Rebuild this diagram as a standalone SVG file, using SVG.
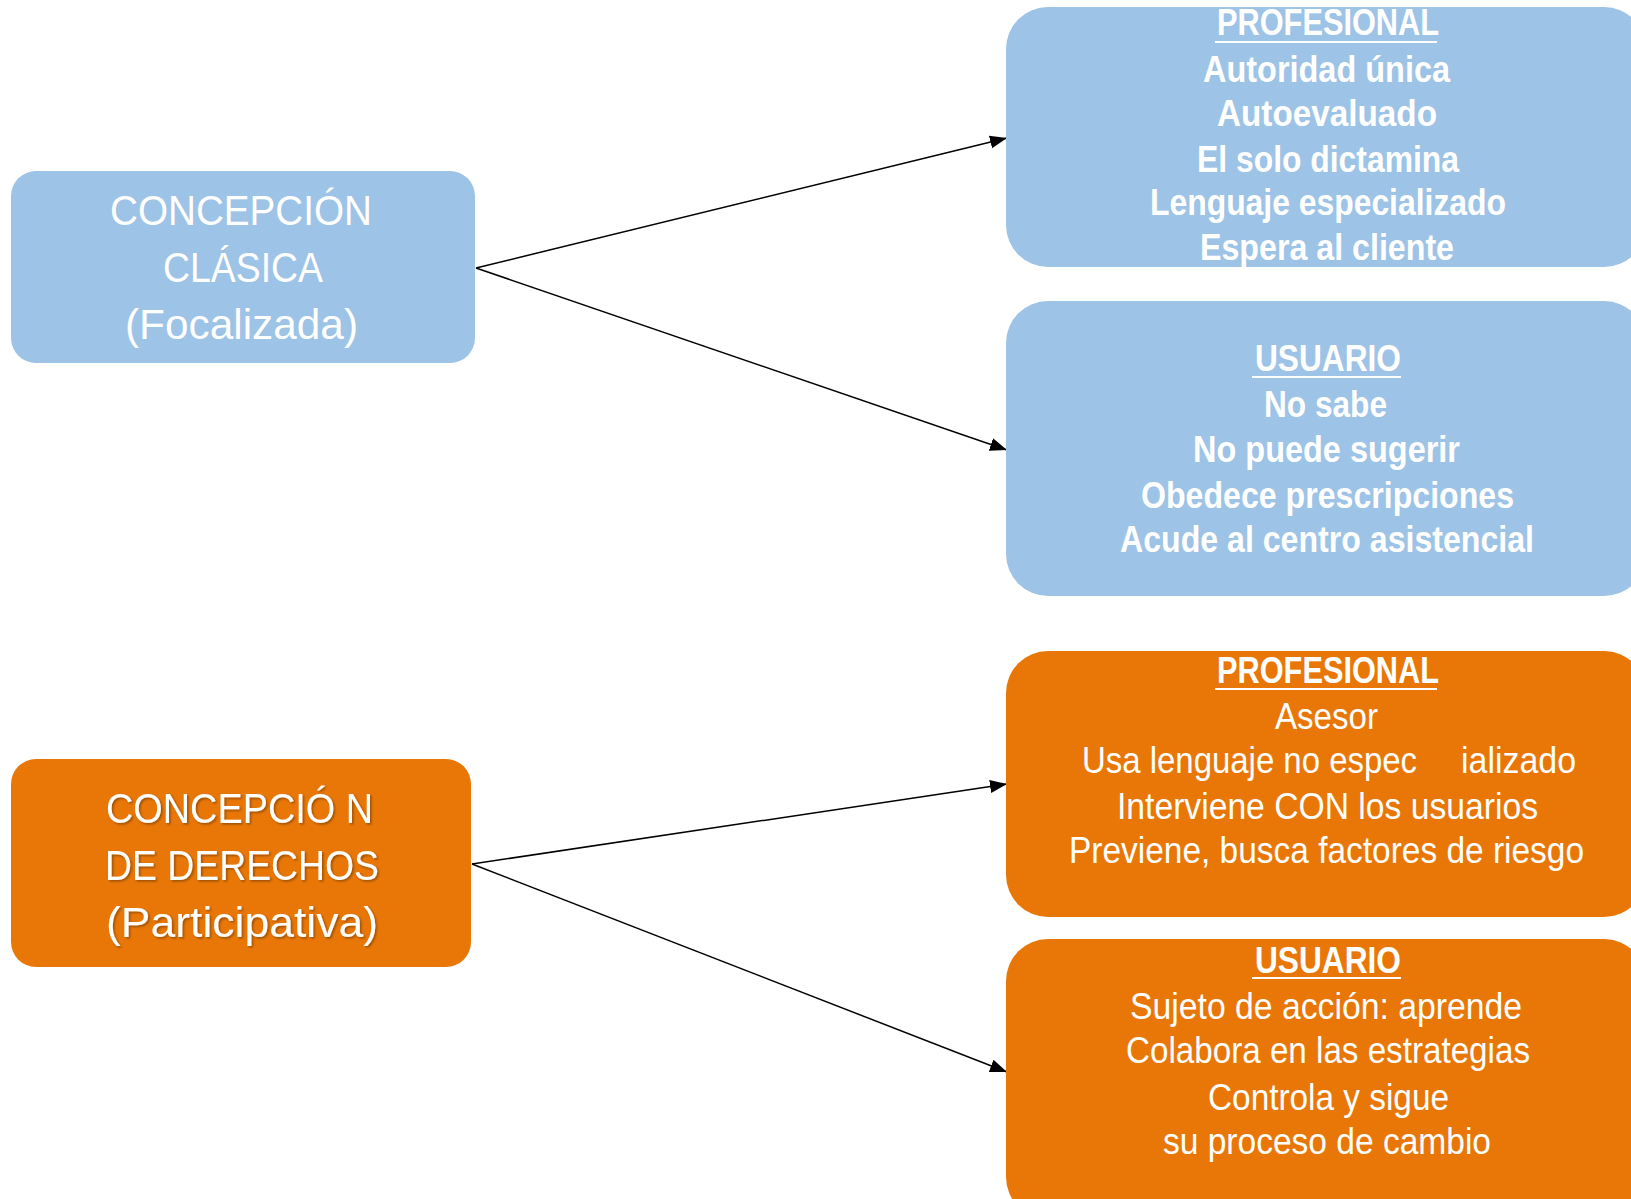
<svg xmlns="http://www.w3.org/2000/svg" width="1631" height="1199" viewBox="0 0 1631 1199">
<style>
.blue{fill:#9DC3E6}
.orange{fill:#E97707}
.t{font-family:"Liberation Sans",Arial,sans-serif;fill:#ffffff}
.big{font-size:43px}
.b{font-size:36px;font-weight:bold}
.r{font-size:36px}
.ul{stroke:#ffffff;stroke-width:2.2}
.conn{stroke:#000000;stroke-width:1.5;fill:none;marker-end:url(#arrow)}
</style>
<defs>
<marker id="arrow" markerUnits="userSpaceOnUse" markerWidth="18" markerHeight="15" refX="17" refY="7.5" orient="auto">
<path d="M0,1 L17,7.5 L0,14 z" fill="#000000"/>
</marker>
<filter id="sh" x="-10%" y="-20%" width="120%" height="140%">
<feDropShadow dx="1.5" dy="1.5" stdDeviation="1" flood-color="#000000" flood-opacity="0.35"/>
</filter>
</defs>
<rect width="1631" height="1199" fill="#ffffff"/>

<g id="connectors">
<line class="conn" x1="476" y1="268" x2="1007" y2="138"/>
<line class="conn" x1="476" y1="268" x2="1007" y2="450"/>
<line class="conn" x1="472" y1="864" x2="1007" y2="784"/>
<line class="conn" x1="472" y1="864" x2="1007" y2="1072"/>
</g>

<g id="clasica">
<rect class="blue" x="11" y="171" width="464" height="192" rx="25"/>
<text class="t big" x="110" y="225" textLength="262" lengthAdjust="spacingAndGlyphs">CONCEPCIÓN</text>
<text class="t big" x="163" y="282" textLength="160" lengthAdjust="spacingAndGlyphs">CLÁSICA</text>
<text class="t big" x="125" y="339" textLength="233" lengthAdjust="spacingAndGlyphs">(Focalizada)</text>
</g>

<g id="derechos">
<rect class="orange" x="11" y="759" width="460" height="208" rx="25"/>
<g filter="url(#sh)">
<text class="t big" x="106" y="823" textLength="267" lengthAdjust="spacingAndGlyphs">CONCEPCIÓ N</text>
<text class="t big" x="105" y="880" textLength="274" lengthAdjust="spacingAndGlyphs">DE DERECHOS</text>
<text class="t big" x="106" y="937" textLength="272" lengthAdjust="spacingAndGlyphs">(Participativa)</text>
</g>
</g>

<g id="profesional-clasica">
<rect class="blue" x="1006" y="7" width="640" height="260" rx="42"/>
<text class="t b" x="1217" y="35" textLength="222" lengthAdjust="spacingAndGlyphs">PROFESIONAL</text>
<line class="ul" x1="1215" y1="42" x2="1437" y2="42"/>
<text class="t b" x="1203" y="82" textLength="247" lengthAdjust="spacingAndGlyphs">Autoridad única</text>
<text class="t b" x="1217" y="126" textLength="220" lengthAdjust="spacingAndGlyphs">Autoevaluado</text>
<text class="t b" x="1197" y="172" textLength="262" lengthAdjust="spacingAndGlyphs">El solo dictamina</text>
<text class="t b" x="1150" y="215" textLength="356" lengthAdjust="spacingAndGlyphs">Lenguaje especializado</text>
<text class="t b" x="1200" y="260" textLength="254" lengthAdjust="spacingAndGlyphs">Espera al cliente</text>
</g>

<g id="usuario-clasica">
<rect class="blue" x="1006" y="301" width="640" height="295" rx="42"/>
<text class="t b" x="1255" y="371" textLength="146" lengthAdjust="spacingAndGlyphs">USUARIO</text>
<line class="ul" x1="1252" y1="377" x2="1401" y2="377"/>
<text class="t b" x="1264" y="417" textLength="123" lengthAdjust="spacingAndGlyphs">No sabe</text>
<text class="t b" x="1193" y="462" textLength="267" lengthAdjust="spacingAndGlyphs">No puede sugerir</text>
<text class="t b" x="1141" y="508" textLength="373" lengthAdjust="spacingAndGlyphs">Obedece prescripciones</text>
<text class="t b" x="1120" y="552" textLength="414" lengthAdjust="spacingAndGlyphs">Acude al centro asistencial</text>
</g>

<g id="profesional-derechos">
<rect class="orange" x="1006" y="651" width="640" height="266" rx="42"/>
<text class="t b" x="1217" y="683" textLength="222" lengthAdjust="spacingAndGlyphs">PROFESIONAL</text>
<line class="ul" x1="1215" y1="689" x2="1437" y2="689"/>
<text class="t r" x="1275" y="729" textLength="103" lengthAdjust="spacingAndGlyphs">Asesor</text>
<text class="t r" x="1082" y="773" textLength="335" lengthAdjust="spacingAndGlyphs">Usa lenguaje no espec</text>
<text class="t r" x="1461" y="773" textLength="115" lengthAdjust="spacingAndGlyphs">ializado</text>
<text class="t r" x="1117" y="819" textLength="421" lengthAdjust="spacingAndGlyphs">Interviene CON los usuarios</text>
<text class="t r" x="1069" y="863" textLength="515" lengthAdjust="spacingAndGlyphs">Previene, busca factores de riesgo</text>
</g>

<g id="usuario-derechos">
<rect class="orange" x="1006" y="939" width="640" height="280" rx="42"/>
<text class="t b" x="1255" y="973" textLength="146" lengthAdjust="spacingAndGlyphs">USUARIO</text>
<line class="ul" x1="1252" y1="978" x2="1401" y2="978"/>
<text class="t r" x="1130" y="1019" textLength="392" lengthAdjust="spacingAndGlyphs">Sujeto de acción: aprende</text>
<text class="t r" x="1126" y="1063" textLength="404" lengthAdjust="spacingAndGlyphs">Colabora en las estrategias</text>
<text class="t r" x="1208" y="1110" textLength="241" lengthAdjust="spacingAndGlyphs">Controla y sigue</text>
<text class="t r" x="1163" y="1154" textLength="328" lengthAdjust="spacingAndGlyphs">su proceso de cambio</text>
</g>
</svg>
